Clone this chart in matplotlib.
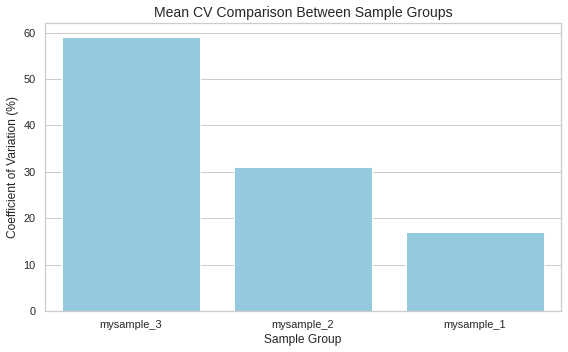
import matplotlib
matplotlib.use("Agg")
import matplotlib.pyplot as plt
import seaborn as sns
import pandas as pd

groups = ["mysample_3", "mysample_2", "mysample_1"]
cv_values = [59.1, 31.0, 17.0]

sns.set_theme(style="whitegrid")
plt.rcParams['font.family'] = ['Liberation Sans', 'DejaVu Sans']

df = pd.DataFrame({"Sample Group": groups, "CV": cv_values})
fig, ax = plt.subplots(figsize=(568/72, 352/72), dpi=72)
sns.barplot(data=df, x="Sample Group", y="CV", color="skyblue", ax=ax)
ax.set_title("Mean CV Comparison Between Sample Groups", fontsize=14)
ax.set_xlabel("Sample Group", fontsize=12)
ax.set_ylabel("Coefficient of Variation (%)", fontsize=12)
fig.subplots_adjust(left=45/568, right=561/568, top=1-23/352, bottom=1-311/352)
fig.savefig("out.png", dpi=72)
